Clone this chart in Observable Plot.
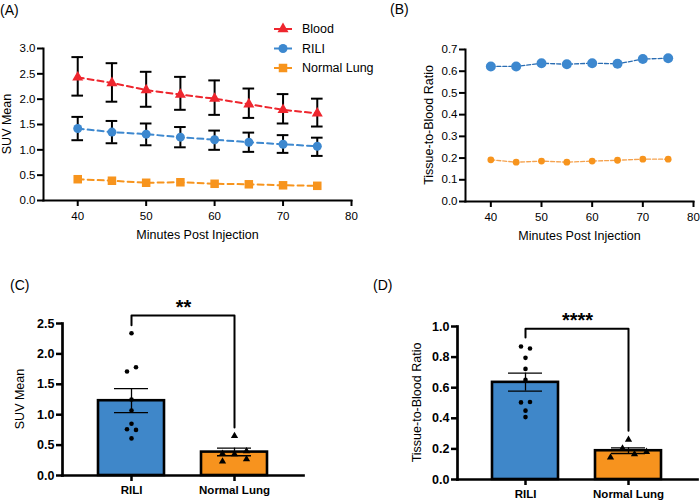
<!DOCTYPE html>
<html><head><meta charset="utf-8">
<script src="https://cdn.jsdelivr.net/npm/d3@7"></script>
<script src="https://cdn.jsdelivr.net/npm/@observablehq/plot@0.6"></script>
<style>
body{margin:0;background:#fff;font-family:"Liberation Sans",Arial,Helvetica,sans-serif;}
#wrap{position:relative;width:700px;height:501px;overflow:hidden;}
.abs{position:absolute;}
.tag{position:absolute;font-size:14px;color:#000;line-height:1;}
</style></head>
<body><div id="wrap"></div>
<script>
// ---------- DATA ----------
const minutes = [40, 45, 50, 55, 60, 65, 70, 75];
const bloodSUV = [2.43, 2.32, 2.18, 2.09, 2.01, 1.90, 1.79, 1.72];
const bloodLo  = [2.07, 1.95, 1.85, 1.79, 1.69, 1.63, 1.52, 1.46];
const bloodHi  = [2.83, 2.71, 2.54, 2.44, 2.37, 2.21, 2.10, 2.01];
const riliSUV  = [1.42, 1.35, 1.31, 1.25, 1.20, 1.15, 1.11, 1.07];
const riliLo   = [1.19, 1.13, 1.09, 1.05, 1.00, 0.96, 0.94, 0.88];
const riliHi   = [1.65, 1.57, 1.52, 1.45, 1.38, 1.34, 1.29, 1.24];
const normalSUV = [0.42, 0.39, 0.35, 0.36, 0.33, 0.32, 0.30, 0.29];

const riliRatio   = [0.622, 0.622, 0.637, 0.632, 0.637, 0.634, 0.656, 0.660];
const normalRatio = [0.192, 0.181, 0.186, 0.181, 0.186, 0.190, 0.195, 0.195];

const seriesNames = ["Blood", "RILI", "Normal Lung"];
const seriesColors = ["#ee262e", "#3d88cf", "#f7941d"];
const xTicksTime = [40, 50, 60, 70, 80];
const yTicksA = [0, 0.5, 1.0, 1.5, 2.0, 2.5, 3.0];
const yTicksB = [0, 0.1, 0.2, 0.3, 0.4, 0.5, 0.6, 0.7];

const cats = ["RILI", "Normal Lung"];
const barColors = ["#3f87c9", "#f7931e"];
// panel C
const suvMean  = [1.23, 0.385];
const suvSemLo = [1.035, 0.325];
const suvSemHi = [1.43, 0.45];
const suvRiliPts  = [2.34, 1.78, 1.71, 1.25, 1.07, 0.85, 0.76, 0.75, 0.61];
const suvRiliSlot = [0, 1, -1, 0, 0, 0, -1, 1, 0];
const suvNormPts  = [0.65, 0.40, 0.36, 0.35, 0.27, 0.23];
const suvNormSlot = [0, 1, -1, 0, 1, -1];
const yTicksC = [0, 0.5, 1.0, 1.5, 2.0, 2.5];
const sigC = {left: 2.47, top: 2.63, right: 0.79, label: "**"};
// panel D
const ratioMean  = [0.635, 0.188];
const ratioSemLo = [0.578, 0.17];
const ratioSemHi = [0.695, 0.207];
const ratioRiliPts  = [0.869, 0.856, 0.795, 0.723, 0.651, 0.504, 0.507, 0.450, 0.408];
const ratioRiliSlot = [-1, 1, 0, 0, 0, -1, 1, 0, 0];
const ratioNormPts  = [0.26, 0.203, 0.144, 0.166, 0.181];
const ratioNormSlot = [0, -1, -3, 1, 3];
const yTicksD = [0, 0.2, 0.4, 0.6, 0.8, 1.0];
const sigD = {left: 0.928, top: 0.985, right: 0.319, label: "****"};

// ---------- HELPERS ----------
const FONT = '"Liberation Sans", Arial, Helvetica, sans-serif';
const wrap = document.getElementById("wrap");
function place(node, left, top) {
  const d = document.createElement("div");
  d.className = "abs";
  d.style.left = left + "px"; d.style.top = top + "px";
  d.appendChild(node); wrap.appendChild(d);
}
function tag(txt, left, top) {
  const d = document.createElement("div");
  d.className = "tag"; d.textContent = txt;
  d.style.left = left + "px"; d.style.top = top + "px";
  wrap.appendChild(d);
}
const f1 = d3.format(".1f");
const baseStyle = {fontFamily: FONT, fontSize: "11px", color: "#000", background: "transparent", overflow: "visible"};
// rotated y-axis title, centred on the plot frame
function addYTitle(svg, label, h, mL, mT, mB, offset) {
  const cy = mT + (h - mT - mB) / 2;
  d3.select(svg).append("text")
    .attr("transform", `translate(${mL - offset},${cy}) rotate(-90)`)
    .attr("text-anchor", "middle").attr("dy", "0.35em")
    .attr("font-size", 12.5).attr("fill", "#000").attr("font-family", FONT)
    .text(label);
  return svg;
}

// ---------- PANEL A ----------
const rowsA = [];
minutes.forEach((m, i) => {
  rowsA.push({series: "Blood", x: m, y: bloodSUV[i], lo: bloodLo[i], hi: bloodHi[i]});
  rowsA.push({series: "RILI", x: m, y: riliSUV[i], lo: riliLo[i], hi: riliHi[i]});
  rowsA.push({series: "Normal Lung", x: m, y: normalSUV[i]});
});
const errA = rowsA.filter(d => d.lo != null);
const capHalf = 0.85;
const plotA = Plot.plot({
  width: 352, height: 250,
  marginLeft: 43, marginRight: 1, marginTop: 48, marginBottom: 50,
  style: baseStyle,
  x: {domain: [35, 80]},
  y: {domain: [0, 3]},
  color: {domain: seriesNames, range: seriesColors},
  marks: [
    Plot.axisX({ticks: xTicksTime, tickSize: 6, tickPadding: 5, strokeWidth: 2, label: null, fontSize: 11.5}),
    Plot.axisY({ticks: yTicksA, tickSize: 6, tickPadding: 2, strokeWidth: 2, tickFormat: f1, label: null, fontSize: 11.5}),
    Plot.frame({anchor: "left", strokeWidth: 2}),
    Plot.frame({anchor: "bottom", strokeWidth: 2}),
    Plot.text(["Minutes Post Injection"], {text: d => d, frameAnchor: "bottom", dy: 38, fontSize: 12.5}),
    Plot.ruleX(errA, {x: "x", y1: "lo", y2: "hi", stroke: "#000", strokeWidth: 2}),
    Plot.ruleY(errA, {y: "hi", x1: d => d.x - capHalf, x2: d => d.x + capHalf, stroke: "#000", strokeWidth: 2}),
    Plot.ruleY(errA, {y: "lo", x1: d => d.x - capHalf, x2: d => d.x + capHalf, stroke: "#000", strokeWidth: 2}),
    Plot.line(rowsA, {x: "x", y: "y", z: "series", stroke: "series", strokeWidth: 2, strokeDasharray: "6,4"}),
    Plot.dot(rowsA.filter(d => d.series === "Blood"), {x: "x", y: "y", symbol: "triangle", r: 4.1, fill: "series"}),
    Plot.dot(rowsA.filter(d => d.series === "RILI"), {x: "x", y: "y", symbol: "circle", r: 4.5, fill: "series"}),
    Plot.dot(rowsA.filter(d => d.series === "Normal Lung"), {x: "x", y: "y", symbol: "square", r: 4.8, fill: "series"})
  ]
});
addYTitle(plotA, "SUV Mean", 250, 43, 48, 50, 36);
place(plotA, 0, 0);

// legend for A
(function () {
  const svg = d3.create("svg").attr("width", 360).attr("height", 90)
    .style("font-family", FONT).style("overflow", "visible");
  const ys = [29, 48.5, 68];
  const syms = [d3.symbolTriangle, d3.symbolCircle, d3.symbolSquare];
  const sizes = [Math.PI * 4.1 * 4.1, Math.PI * 4.5 * 4.5, Math.PI * 4.8 * 4.8];
  seriesNames.forEach((name, i) => {
    const g = svg.append("g").attr("transform", `translate(0,${ys[i]})`);
    g.append("line").attr("x1", 274).attr("x2", 292).attr("stroke", seriesColors[i]).attr("stroke-width", 2);
    g.append("path").attr("d", d3.symbol(syms[i], sizes[i])()).attr("transform", "translate(283,0)").attr("fill", seriesColors[i]);
    g.append("text").attr("x", 302).attr("dy", "0.35em").attr("font-size", 12.5).text(name);
  });
  place(svg.node(), 0, 0);
})();

// ---------- PANEL B ----------
const rowsB = [];
minutes.forEach((m, i) => {
  rowsB.push({series: "RILI", x: m, y: riliRatio[i]});
  rowsB.push({series: "Normal Lung", x: m, y: normalRatio[i]});
});
const plotB = Plot.plot({
  width: 350, height: 250,
  marginLeft: 115, marginRight: 7, marginTop: 49, marginBottom: 49,
  style: baseStyle,
  x: {domain: [35, 80]},
  y: {domain: [0, 0.7]},
  marks: [
    Plot.axisX({ticks: xTicksTime, tickSize: 6, tickPadding: 5, strokeWidth: 2, label: null, fontSize: 11.5}),
    Plot.axisY({ticks: yTicksB, tickSize: 6, tickPadding: 2, strokeWidth: 2, tickFormat: f1, label: null, fontSize: 11.5}),
    Plot.frame({anchor: "left", strokeWidth: 2}),
    Plot.frame({anchor: "bottom", strokeWidth: 2}),
    Plot.text(["Minutes Post Injection"], {text: d => d, frameAnchor: "bottom", dy: 38, fontSize: 12.5}),
    Plot.line(rowsB.filter(d => d.series === "RILI"), {x: "x", y: "y", stroke: "#2a6db3", strokeWidth: 1.3, strokeDasharray: "4,2"}),
    Plot.line(rowsB.filter(d => d.series === "Normal Lung"), {x: "x", y: "y", stroke: "#f5a24e", strokeWidth: 1.3, strokeDasharray: "4,2"}),
    Plot.dot(rowsB.filter(d => d.series === "RILI"), {x: "x", y: "y", r: 5, fill: seriesColors[1]}),
    Plot.dot(rowsB.filter(d => d.series === "Normal Lung"), {x: "x", y: "y", r: 3.4, fill: seriesColors[2]})
  ]
});
addYTitle(plotB, "Tissue-to-Blood Ratio", 250, 115, 49, 49, 36);
place(plotB, 350, 0);

// ---------- BAR PANELS ----------
function barPanel(o) {
  const bars = cats.map((c, i) => ({cat: c, mean: o.means[i], lo: o.lo[i], hi: o.hi[i]}));
  const pts = [];
  o.riliPts.forEach((v, i) => pts.push({cat: "RILI", v, slot: o.riliSlot[i]}));
  o.normPts.forEach((v, i) => pts.push({cat: "Normal Lung", v, slot: o.normSlot[i]}));
  const dotMarks = [];
  for (const c of cats) {
    const sub = pts.filter(d => d.cat === c);
    const slots = [...new Set(sub.map(d => d.slot))];
    for (const s of slots) {
      dotMarks.push(Plot.dot(sub.filter(d => d.slot === s), {
        x: "cat", y: "v", dx: s * o.spacing[c],
        symbol: c === "RILI" ? "circle" : "triangle",
        r: c === "RILI" ? 2.3 : 2.7, fill: "#000"
      }));
    }
  }
  const br = [
    {cat: "RILI", y: o.sig.left}, {cat: "RILI", y: o.sig.top},
    {cat: "Normal Lung", y: o.sig.top}, {cat: "Normal Lung", y: o.sig.right}
  ];
  const svg = Plot.plot({
    width: o.w, height: o.h,
    marginLeft: o.mL, marginRight: o.mR, marginTop: o.mT, marginBottom: o.mB,
    style: baseStyle,
    x: {domain: cats, paddingInner: 0.356, paddingOuter: 0.337, align: 0.5},
    y: {domain: o.yDomain},
    color: {domain: cats, range: barColors},
    marks: [
      Plot.axisX({tickSize: 6, tickPadding: 4, strokeWidth: 2.5, label: null, fontWeight: "bold", fontSize: 11.5}),
      Plot.axisY({ticks: o.yTicks, tickSize: 6, tickPadding: 2, strokeWidth: 2.5, tickFormat: f1, label: null, fontWeight: "bold", fontSize: 12.5}),
      Plot.barY(bars, {x: "cat", y: "mean", fill: "cat", stroke: "#000", strokeWidth: 2.6}),
      Plot.frame({anchor: "left", strokeWidth: 2.7}),
      Plot.frame({anchor: "bottom", strokeWidth: 2.7}),
      Plot.ruleX(bars, {x: "cat", y1: "lo", y2: "hi", stroke: "#000", strokeWidth: 1.3}),
      Plot.tickY(bars, {x: "cat", y: "hi", inset: 16, stroke: "#000", strokeWidth: 1.3}),
      Plot.tickY(bars, {x: "cat", y: "lo", inset: 16, stroke: "#000", strokeWidth: 1.3}),
      ...dotMarks,
      Plot.line(br, {x: "cat", y: "y", stroke: "#000", strokeWidth: 2}),
      Plot.text([o.sig.label], {text: d => d, x: () => cats[0], y: () => o.sig.top, dx: 52, dy: -2, fontSize: 20, fontWeight: "bold", lineAnchor: "bottom"})
    ]
  });
  return addYTitle(svg, o.ylabel, o.h, o.mL, o.mT, o.mB, o.labelOffset);
}

const plotC = barPanel({
  means: suvMean, lo: suvSemLo, hi: suvSemHi,
  riliPts: suvRiliPts, riliSlot: suvRiliSlot, normPts: suvNormPts, normSlot: suvNormSlot,
  spacing: {"RILI": 4.5, "Normal Lung": 12},
  yDomain: [0, 2.5], yTicks: yTicksC, sig: sigC, ylabel: "SUV Mean", labelOffset: 42,
  w: 350, h: 251, mL: 62, mR: 47, mT: 73, mB: 26
});
place(plotC, 0, 250);

const plotD = barPanel({
  means: ratioMean, lo: ratioSemLo, hi: ratioSemHi,
  riliPts: ratioRiliPts, riliSlot: ratioRiliSlot, normPts: ratioNormPts, normSlot: ratioNormSlot,
  spacing: {"RILI": 4.5, "Normal Lung": 6},
  yDomain: [0, 1], yTicks: yTicksD, sig: sigD, ylabel: "Tissue-to-Blood Ratio", labelOffset: 40,
  w: 350, h: 251, mL: 107, mR: 3, mT: 76, mB: 22
});
place(plotD, 350, 250);

// ---------- PANEL TAGS ----------
tag("(A)", 0, 3);
tag("(B)", 390, 2);
tag("(C)", 10, 278);
tag("(D)", 373, 278);
</script>
</body></html>
